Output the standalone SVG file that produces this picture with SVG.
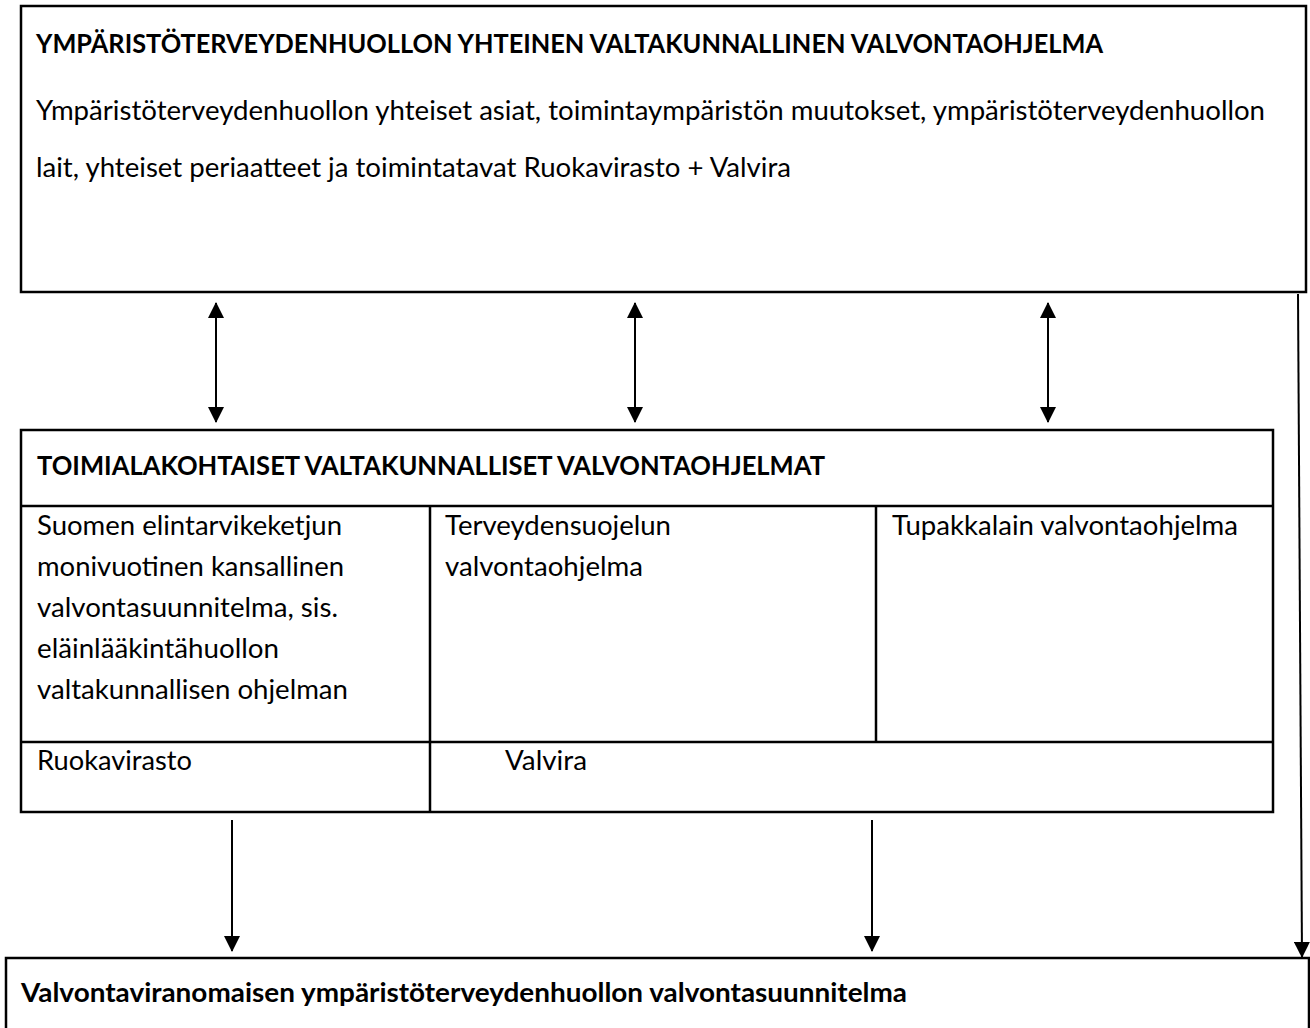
<svg xmlns="http://www.w3.org/2000/svg" width="1310" height="1028" viewBox="0 0 1310 1028">
<style>
.box{fill:#fff;stroke:#000;stroke-width:2.5}
.ln{stroke:#000;stroke-width:2.5;fill:none}
.t{font-family:Lato,"Liberation Sans",sans-serif;font-size:27px;fill:#000}
.b{font-weight:bold}
.c{stroke:#000;stroke-width:2;fill:none}
</style>
<defs>
<marker id="ah" viewBox="0 0 16 16" refX="15" refY="8" markerWidth="16" markerHeight="16" markerUnits="userSpaceOnUse" orient="auto-start-reverse">
<path d="M0,0 L16,8 L0,16 z" fill="#000"/>
</marker>
</defs>
<rect width="1310" height="1028" fill="#fff"/>

<g id="node-top">
<rect class="box" x="21" y="6" width="1285" height="286"/>
<text class="t b" x="36" y="53" textLength="1067" lengthAdjust="spacingAndGlyphs">YMPÄRISTÖTERVEYDENHUOLLON YHTEINEN VALTAKUNNALLINEN VALVONTAOHJELMA</text>
<text class="t" x="36" y="120" textLength="1229" lengthAdjust="spacingAndGlyphs">Ympäristöterveydenhuollon yhteiset asiat, toimintaympäristön muutokset, ympäristöterveydenhuollon</text>
<text class="t" x="36" y="177" textLength="755" lengthAdjust="spacingAndGlyphs">lait, yhteiset periaatteet ja toimintatavat Ruokavirasto + Valvira</text>
</g>

<g id="node-middle">
<rect class="box" x="21" y="430" width="1252" height="382"/>
<line class="ln" x1="21" y1="506" x2="1273" y2="506"/>
<line class="ln" x1="21" y1="742" x2="1273" y2="742"/>
<line class="ln" x1="430" y1="506" x2="430" y2="812"/>
<line class="ln" x1="876" y1="506" x2="876" y2="742"/>
<text class="t b" x="37" y="475" textLength="788" lengthAdjust="spacingAndGlyphs">TOIMIALAKOHTAISET VALTAKUNNALLISET VALVONTAOHJELMAT</text>
<text class="t" x="37" y="535" textLength="305" lengthAdjust="spacingAndGlyphs">Suomen elintarvikeketjun</text>
<text class="t" x="37" y="576" textLength="307" lengthAdjust="spacingAndGlyphs">monivuotinen kansallinen</text>
<text class="t" x="37" y="617" textLength="301" lengthAdjust="spacingAndGlyphs">valvontasuunnitelma, sis.</text>
<text class="t" x="37" y="658" textLength="242" lengthAdjust="spacingAndGlyphs">eläinlääkintähuollon</text>
<text class="t" x="37" y="699" textLength="311" lengthAdjust="spacingAndGlyphs">valtakunnallisen ohjelman</text>
<text class="t" x="445" y="535" textLength="226" lengthAdjust="spacingAndGlyphs">Terveydensuojelun</text>
<text class="t" x="445" y="576" textLength="198" lengthAdjust="spacingAndGlyphs">valvontaohjelma</text>
<text class="t" x="892" y="535" textLength="346" lengthAdjust="spacingAndGlyphs">Tupakkalain valvontaohjelma</text>
<text class="t" x="37" y="770" textLength="155" lengthAdjust="spacingAndGlyphs">Ruokavirasto</text>
<text class="t" x="505" y="770" textLength="82" lengthAdjust="spacingAndGlyphs">Valvira</text>
</g>

<g id="node-bottom">
<rect class="box" x="6" y="958" width="1303" height="90"/>
<text class="t b" x="21" y="1002" textLength="886" lengthAdjust="spacingAndGlyphs">Valvontaviranomaisen ympäristöterveydenhuollon valvontasuunnitelma</text>
</g>

<g id="connectors">
<line class="c" x1="216" y1="303" x2="216" y2="422" marker-start="url(#ah)" marker-end="url(#ah)"/>
<line class="c" x1="635" y1="303" x2="635" y2="422" marker-start="url(#ah)" marker-end="url(#ah)"/>
<line class="c" x1="1048" y1="303" x2="1048" y2="422" marker-start="url(#ah)" marker-end="url(#ah)"/>
<line class="c" x1="232" y1="820" x2="232" y2="951" marker-end="url(#ah)"/>
<line class="c" x1="872" y1="820" x2="872" y2="951" marker-end="url(#ah)"/>
<line class="c" x1="1298" y1="294" x2="1302" y2="957" marker-end="url(#ah)"/>
</g>
</svg>
